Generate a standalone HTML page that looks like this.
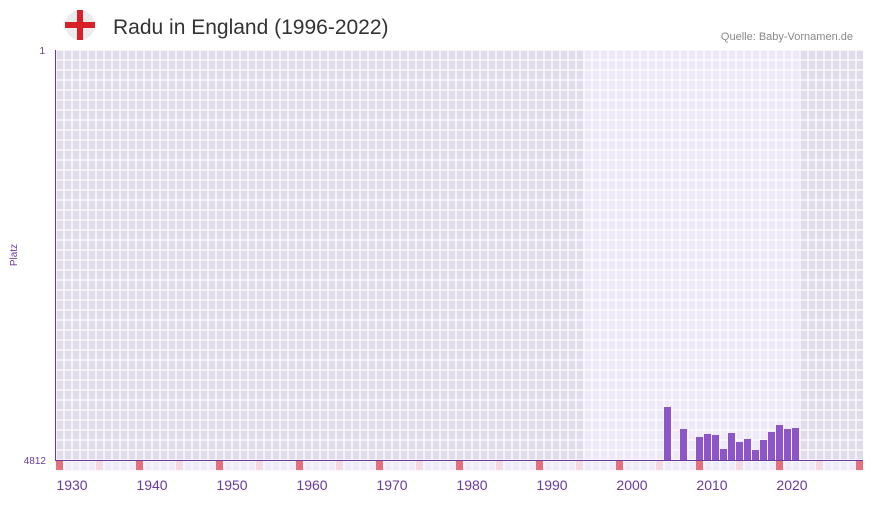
<!DOCTYPE html>
<html><head><meta charset="utf-8"><style>
body{margin:0;background:#fff;width:873px;height:502px;overflow:hidden;font-family:"Liberation Sans",sans-serif}
</style></head><body>
<svg width="873" height="502" viewBox="0 0 873 502" xmlns="http://www.w3.org/2000/svg">
<defs>
<pattern id="g" x="56" y="50" width="8" height="10" patternUnits="userSpaceOnUse">
<rect x="0" y="0" width="8" height="10" fill="none" stroke="#fff" stroke-width="1.4" stroke-opacity="0.9"/>
</pattern>
<pattern id="gs" x="56" y="461" width="8" height="10" patternUnits="userSpaceOnUse">
<rect x="0" y="0" width="8" height="10" fill="none" stroke="#fff" stroke-width="1.2"/>
</pattern>
</defs>
<circle cx="80" cy="25" r="15" fill="#ececec"/>
<rect x="65" y="22" width="30" height="6" fill="#d8202a"/>
<rect x="77" y="10" width="6" height="30" fill="#d8202a"/>
<text x="113" y="34" font-size="21" fill="#333">Radu in England (1996-2022)</text>
<text x="853" y="40" font-size="11" fill="#888" text-anchor="end">Quelle: Baby-Vornamen.de</text>
<rect x="56" y="50" width="527" height="410" fill="#e1dcea"/>
<rect x="583" y="50" width="216" height="410" fill="#eee8f9"/>
<rect x="799" y="50" width="64" height="410" fill="#e1dcea"/>
<rect x="56" y="50" width="807" height="410" fill="url(#g)"/>
<rect x="56" y="461" width="807" height="10" fill="#efeafa"/>
<rect x="56" y="461" width="807" height="10" fill="url(#gs)"/>
<line x1="55.5" y1="50" x2="55.5" y2="461" stroke="#6a3aa0" stroke-width="1"/>
<line x1="55" y1="460.5" x2="863" y2="460.5" stroke="#6a3aa0" stroke-width="1"/>
<g fill="#8e55c8">
<rect x="664" y="407" width="7" height="53"/>
<rect x="680" y="429" width="7" height="31"/>
<rect x="696" y="437" width="7" height="23"/>
<rect x="704" y="434" width="7" height="26"/>
<rect x="712" y="435" width="7" height="25"/>
<rect x="720" y="449" width="7" height="11"/>
<rect x="728" y="433" width="7" height="27"/>
<rect x="736" y="442" width="7" height="18"/>
<rect x="744" y="439" width="7" height="21"/>
<rect x="752" y="450" width="7" height="10"/>
<rect x="760" y="440" width="7" height="20"/>
<rect x="768" y="432" width="7" height="28"/>
<rect x="776" y="425" width="7" height="35"/>
<rect x="784" y="429" width="7" height="31"/>
<rect x="792" y="428" width="7" height="32"/>
</g>
<g fill="#e8707a">
<rect x="56" y="461" width="7" height="9"/><rect x="136" y="461" width="7" height="9"/><rect x="216" y="461" width="7" height="9"/><rect x="296" y="461" width="7" height="9"/><rect x="376" y="461" width="7" height="9"/><rect x="456" y="461" width="7" height="9"/><rect x="536" y="461" width="7" height="9"/><rect x="616" y="461" width="7" height="9"/><rect x="696" y="461" width="7" height="9"/><rect x="776" y="461" width="7" height="9"/><rect x="856" y="461" width="7" height="9"/>
</g>
<g fill="#f4d8e2">
<rect x="96" y="461" width="7" height="9"/><rect x="176" y="461" width="7" height="9"/><rect x="256" y="461" width="7" height="9"/><rect x="336" y="461" width="7" height="9"/><rect x="416" y="461" width="7" height="9"/><rect x="496" y="461" width="7" height="9"/><rect x="576" y="461" width="7" height="9"/><rect x="656" y="461" width="7" height="9"/><rect x="736" y="461" width="7" height="9"/><rect x="816" y="461" width="7" height="9"/>
</g>
<g font-size="14" fill="#6a3aa0" text-anchor="middle">
<text x="72" y="490">1930</text><text x="152" y="490">1940</text><text x="232" y="490">1950</text><text x="312" y="490">1960</text><text x="392" y="490">1970</text><text x="472" y="490">1980</text><text x="552" y="490">1990</text><text x="632" y="490">2000</text><text x="712" y="490">2010</text><text x="792" y="490">2020</text>
</g>
<g font-size="10" fill="#6a3aa0">
<text x="45" y="54" text-anchor="end">1</text>
<text x="46" y="464" text-anchor="end">4812</text>
<text x="17" y="255" text-anchor="middle" transform="rotate(-90 17 255)">Platz</text>
</g>
</svg>
</body></html>
